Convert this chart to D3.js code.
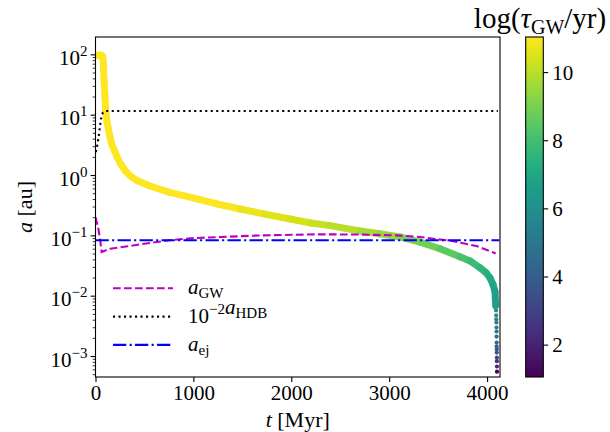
<!DOCTYPE html>
<html>
<head>
<meta charset="utf-8">
<script src="https://cdn.jsdelivr.net/npm/d3@7"></script>
<style>
body { margin: 0; background: #fff; }
</style>
</head>
<body>
<svg width="610" height="432"></svg>
<script>
// binary track: time [Myr], semi-major axis [au], log(tau_GW/yr)
var trackT   = [0, 25, 50, 63, 73, 80, 87, 97, 104, 118, 131, 148, 165, 190, 220, 260, 300, 360, 430, 557, 750, 1016, 1250, 1476, 1730, 1987, 2200, 2395, 2702, 2900, 3110, 3315, 3519, 3723, 3826, 3928, 3990, 4030, 4060, 4081, 4088];
var trackA   = [97, 97, 97, 96, 91, 71, 38, 20, 11.6, 7.6, 5.8, 4.3, 3.3, 2.6, 2.0, 1.5, 1.2, 0.95, 0.8, 0.657, 0.52, 0.41, 0.33, 0.273, 0.225, 0.187, 0.16, 0.145, 0.118, 0.106, 0.094, 0.077, 0.06, 0.044, 0.0377, 0.029, 0.024, 0.0197, 0.0155, 0.0117, 0.0068];
var trackTau = [11, 11, 11, 11, 11, 11, 11, 11, 11, 11, 11, 11, 11, 11, 11, 11, 11, 11, 11, 11, 11, 11, 11, 10.85, 10.65, 10.45, 10.3, 10.1, 9.8, 9.6, 9.3, 9.0, 8.7, 8.3, 8.0, 7.7, 7.45, 7.25, 7.0, 6.8, 6.5];

// last few outputs before merger (sparse dots)
var tailT   = [4092, 4093, 4094, 4095, 4096, 4097, 4097, 4098, 4098, 4099, 4099, 4100, 4100, 4101, 4101];
var tailA   = [5.7e-3, 4.7e-3, 4.07e-3, 3.6e-3, 2.97e-3, 2.55e-3, 2.1e-3, 1.67e-3, 1.44e-3, 1.3e-3, 1.14e-3, 9.4e-4, 8.2e-4, 6.7e-4, 5.5e-4];
var tailTau = [6.2, 5.9, 5.7, 5.5, 5.2, 4.9, 4.6, 4.3, 4.0, 3.8, 3.5, 3.0, 2.6, 2.0, 1.1];

// a_GW
var gwT = [0, 15, 29, 46, 63, 150, 330, 560, 760, 1000, 1500, 1700, 2300, 2700, 3080, 3315, 3655, 3900, 4088];
var gwA = [0.2, 0.16, 0.13, 0.088, 0.053, 0.06, 0.066, 0.075, 0.083, 0.09, 0.097, 0.1, 0.104, 0.103, 0.1, 0.094, 0.08, 0.066, 0.05];

// 1e-2 a_HDB
var hdbT = [3, 20, 36, 56, 75, 97, 4110];
var hdbA = [2.4, 3.2, 4.8, 8.5, 10.8, 11.5, 11.5];

// a_ej
var ejT = [0, 4125];
var ejA = [0.083, 0.083];

var xTicks = [0, 1000, 2000, 3000, 4000];
var yExps = [-3, -2, -1, 0, 1, 2];
var cTicks = [2, 4, 6, 8, 10];

var FONT = '"Liberation Serif", "Times New Roman", serif';
var svg = d3.select("svg");
var L = 95.5, R = 500, T = 37, B = 377;

var x = d3.scaleLinear().domain([0, 4132]).range([L, R]);
var y = d3.scaleLog().domain([4.49e-4, 193.8]).range([B, T]);
var cmin = 1.05, cmax = 11.03;
var color = d3.scaleSequential(d3.interpolateViridis).domain([cmin, cmax]);

svg.append("defs").append("clipPath").attr("id", "clip")
  .append("rect").attr("x", L).attr("y", T).attr("width", R - L).attr("height", B - T);

var plot = svg.append("g").attr("clip-path", "url(#clip)");

// track drawn as thick coloured segments
var track = trackT.map(function(t, i){ return {t: t, a: trackA[i], c: trackTau[i]}; });
plot.selectAll(".seg")
  .data(track.slice(0, -1)).enter()
  .append("line").classed("seg", 1)
  .attr("x1", function(d){ return x(d.t); })
  .attr("y1", function(d){ return y(d.a); })
  .attr("x2", function(d, i){ return x(track[i+1].t); })
  .attr("y2", function(d, i){ return y(track[i+1].a); })
  .attr("stroke", function(d, i){ return color((d.c + track[i+1].c) / 2); })
  .attr("stroke-width", 7)
  .attr("stroke-linecap", "round");

var tail = tailT.map(function(t, i){ return {t: t, a: tailA[i], c: tailTau[i]}; });
plot.selectAll(".dot")
  .data(tail).enter()
  .append("circle").classed("dot", 1)
  .attr("cx", function(d){ return x(d.t); })
  .attr("cy", function(d){ return y(d.a); })
  .attr("r", 2.1)
  .attr("fill", function(d){ return color(d.c); });

var line = d3.line().x(function(d){ return x(d[0]); }).y(function(d){ return y(d[1]); });
function zip(a, b){ return a.map(function(v, i){ return [v, b[i]]; }); }

var styles = [
  {t: gwT, a: gwA, col: "#bf00bf", dash: "7.7,3.3"},
  {t: hdbT, a: hdbA, col: "#000", dash: "2.1,3.4"},
  {t: ejT, a: ejA, col: "#0000ff", dash: "13.3,3.3,2.1,3.3"}
];
styles.forEach(function(s){
  plot.append("path")
    .attr("d", line(zip(s.t, s.a)))
    .attr("fill", "none")
    .attr("stroke", s.col)
    .attr("stroke-width", 2.1)
    .attr("stroke-dasharray", s.dash);
});

// axes
var gx = svg.append("g").attr("transform", "translate(0," + B + ")")
  .call(d3.axisBottom(x).tickValues(xTicks).tickSize(4.9).tickPadding(4).tickFormat(d3.format("d")));
gx.select(".domain").remove();
gx.selectAll("line").attr("stroke-width", 1.1);
gx.selectAll("text").attr("font-size", 21).attr("dy", null).attr("y", 23);

var minors = [];
for (var e = -4; e <= 2; e++) for (var m = 2; m <= 9; m++) {
  var v = m * Math.pow(10, e);
  if (v > 4.49e-4 && v < 193.8) minors.push(v);
}
var gyMinor = svg.append("g").attr("transform", "translate(" + L + ",0)")
  .call(d3.axisLeft(y).tickValues(minors).tickSize(2.8).tickFormat(""));
gyMinor.select(".domain").remove();
gyMinor.selectAll("line").attr("stroke-width", 0.8);

var gy = svg.append("g").attr("transform", "translate(" + L + ",0)")
  .call(d3.axisLeft(y).tickValues(yExps.map(function(e){ return Math.pow(10, e); })).tickSize(4.9));
gy.select(".domain").remove();
gy.selectAll("line").attr("stroke-width", 1.1);
gy.selectAll("text").each(function(d){
  var ex = Math.round(Math.log10(d));
  var t = d3.select(this).text(null)
    .attr("font-size", 21).attr("dy", null).attr("x", -8).attr("y", 10)
    .attr("text-anchor", "end");
  t.append("tspan").text("10");
  t.append("tspan").attr("dy", -9).attr("font-size", 15)
    .text(ex < 0 ? "\u2212" + (-ex) : ex);
});

svg.append("rect").attr("x", L).attr("y", T).attr("width", R - L).attr("height", B - T)
  .attr("fill", "none").attr("stroke", "#000").attr("stroke-width", 1.1);

// axis labels
var xl = svg.append("text").attr("x", (L + R) / 2).attr("y", 427)
  .attr("text-anchor", "middle").attr("font-size", 22);
xl.append("tspan").attr("font-style", "italic").text("t");
xl.append("tspan").text(" [Myr]");

var yl = svg.append("text").attr("transform", "translate(32," + ((T + B) / 2) + ") rotate(-90)")
  .attr("text-anchor", "middle").attr("font-size", 22);
yl.append("tspan").attr("font-style", "italic").text("a");
yl.append("tspan").text(" [au]");

// legend
var lg = svg.append("g");
var legRows = [
  {s: styles[0], main: "a", sub: "GW", pre: ""},
  {s: styles[1], main: "a", sub: "HDB", pre: "10"},
  {s: styles[2], main: "a", sub: "ej", pre: ""}
];
legRows.forEach(function(r, i){
  var ly = 288.3 + i * 28.3;
  lg.append("line").attr("x1", 113).attr("x2", 173).attr("y1", ly).attr("y2", ly)
    .attr("stroke", r.s.col).attr("stroke-width", 2.1).attr("stroke-dasharray", r.s.dash);
  var tx = lg.append("text").attr("x", 188).attr("y", ly + 6).attr("font-size", 21);
  if (r.pre) {
    tx.append("tspan").text(r.pre);
    tx.append("tspan").attr("dy", -9).attr("font-size", 15).text("\u22122");
    tx.append("tspan").attr("dy", 9).text("");
  }
  tx.append("tspan").attr("font-style", "italic").text(r.main);
  tx.append("tspan").attr("dy", 4).attr("font-size", 15).text(r.sub);
});

// colourbar
var cbL = 525.7, cbW = 17.6;
var cy = d3.scaleLinear().domain([cmin, cmax]).range([B, T]);
var grad = svg.select("defs").append("linearGradient").attr("id", "vir")
  .attr("x1", 0).attr("y1", 1).attr("x2", 0).attr("y2", 0);
d3.range(0, 1.0001, 0.05).forEach(function(f){
  grad.append("stop").attr("offset", f).attr("stop-color", d3.interpolateViridis(f));
});
svg.append("rect").attr("x", cbL).attr("y", T).attr("width", cbW).attr("height", B - T)
  .attr("fill", "url(#vir)").attr("stroke", "#000").attr("stroke-width", 1.1);
var gc = svg.append("g").attr("transform", "translate(" + (cbL + cbW) + ",0)")
  .call(d3.axisRight(cy).tickValues(cTicks).tickSize(4.9).tickPadding(4));
gc.select(".domain").remove();
gc.selectAll("line").attr("stroke-width", 1.1);
gc.selectAll("text").attr("font-size", 21).attr("dy", "0.35em");

var ct = svg.append("text").attr("x", 540).attr("y", 28).attr("text-anchor", "middle").attr("font-size", 29);
ct.append("tspan").text("log(");
ct.append("tspan").attr("font-style", "italic").text("\u03c4");
ct.append("tspan").attr("dy", 6).attr("font-size", 20).text("GW");
ct.append("tspan").attr("dy", -6).text("/yr)");

// serif everywhere, black text
svg.selectAll("g").attr("font-family", null);
svg.selectAll("text").style("font-family", FONT).attr("fill", "#000");
</script>
</body>
</html>
